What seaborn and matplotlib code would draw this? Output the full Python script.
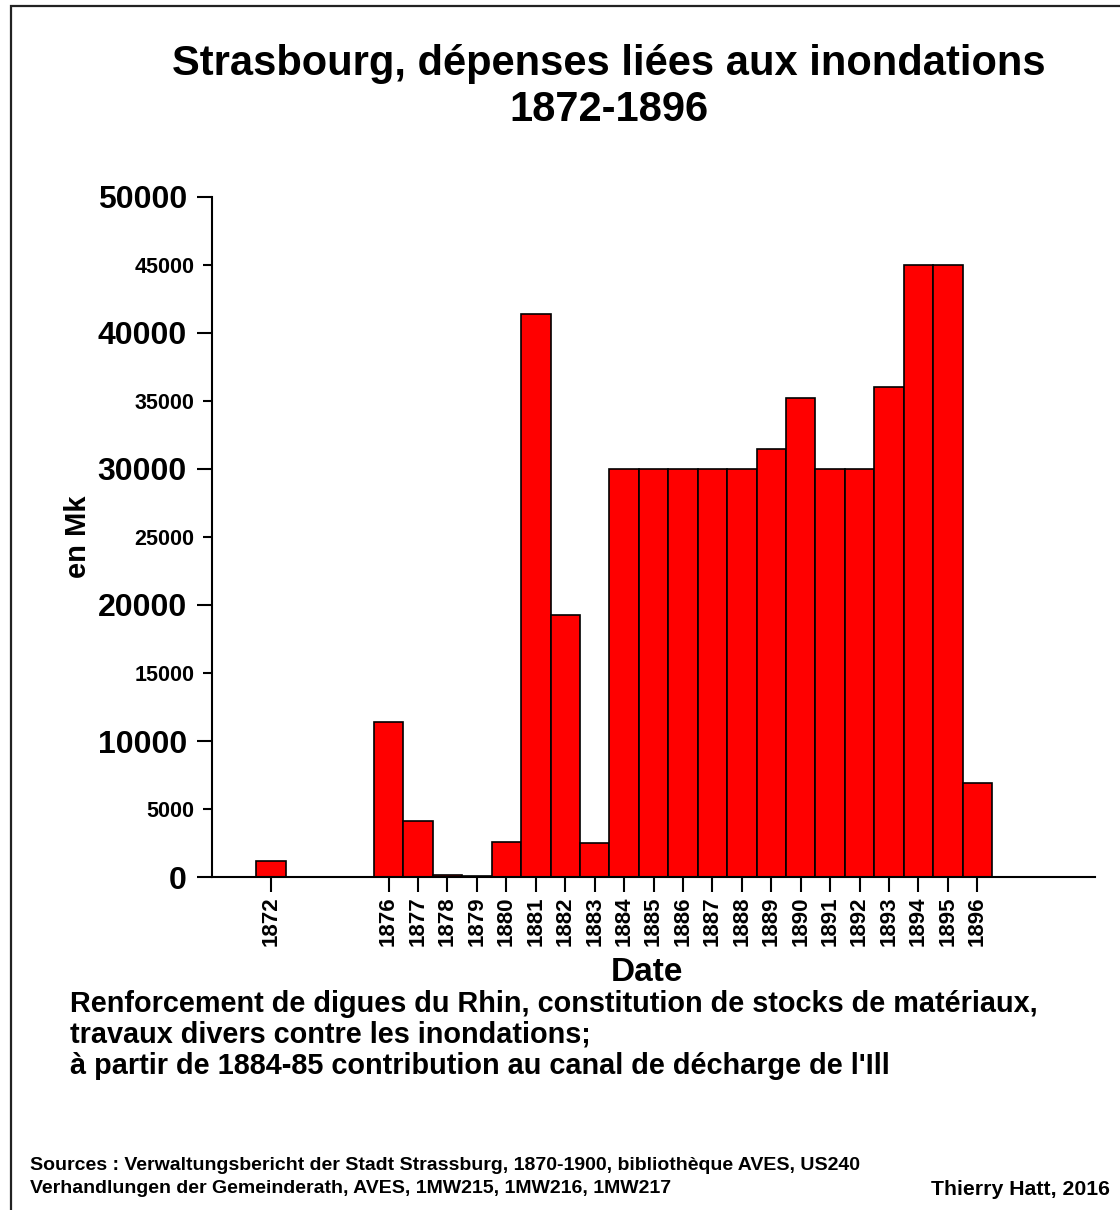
import matplotlib
matplotlib.use('Agg')
import matplotlib.pyplot as plt
from matplotlib.patches import Rectangle
import seaborn as sns
import pandas as pd

# ---------- Données ----------
annees   = [1872, 1876, 1877, 1878, 1879, 1880, 1881, 1882, 1883, 1884,
            1885, 1886, 1887, 1888, 1889, 1890, 1891, 1892, 1893, 1894,
            1895, 1896]
depenses = [1150, 11400, 4100, 120, 40, 2600, 41400, 19300, 2500, 30000,
            30000, 30000, 30000, 30000, 31500, 35200, 30000, 30000, 36000, 45000,
            45000, 6900]
ticks_majeurs = [0, 10000, 20000, 30000, 40000, 50000]
ticks_mineurs = [5000, 15000, 25000, 35000, 45000]

titre = 'Strasbourg, dépenses liées aux inondations\n1872-1896'
note = ("Renforcement de digues du Rhin, constitution de stocks de matériaux,\n"
        "travaux divers contre les inondations;\n"
        "à partir de 1884-85 contribution au canal de décharge de l'Ill")
sources = ("Sources : Verwaltungsbericht der Stadt Strassburg, 1870-1900, bibliothèque AVES, US240\n"
           "Verhandlungen der Gemeinderath, AVES, 1MW215, 1MW216, 1MW217")
auteur = 'Thierry Hatt, 2016'

df = pd.DataFrame({'Annee': annees, 'Depenses': depenses})

sns.set_style('ticks')
plt.rcParams['font.family'] = ['Liberation Sans', 'DejaVu Sans']
plt.rcParams['font.weight'] = 'bold'
for k in ['text.color', 'axes.labelcolor', 'xtick.color', 'ytick.color', 'axes.edgecolor']:
    plt.rcParams[k] = 'black'

fig = plt.figure(figsize=(11.2, 12.1), dpi=100)
ax = fig.add_axes([0.1893, 0.2752, 0.7884, 0.562])

sns.barplot(data=df, x='Annee', y='Depenses', native_scale=True, width=1,
            color='#ff0000', saturation=1, edgecolor='black', linewidth=1.2, ax=ax)

ax.set_xlim(1870, 1900)
ax.set_ylim(0, 50000)
ax.set_xticks(annees)
ax.set_xticklabels([str(a) for a in annees], rotation=90, fontsize=16, fontweight='bold')
ax.set_yticks(ticks_majeurs)
ax.set_yticklabels([str(v) for v in ticks_majeurs], fontsize=23, fontweight='bold')
ax.set_yticks(ticks_mineurs, minor=True)
ax.set_yticklabels([str(v) for v in ticks_mineurs], minor=True, fontsize=15.5, fontweight='bold')
ax.tick_params(axis='y', which='major', length=11, width=1.5, pad=7)
ax.tick_params(axis='y', which='minor', length=6.5, width=1.5, pad=6)
ax.tick_params(axis='x', length=11, width=1.5, pad=3)

ax.set_xlabel('Date', fontsize=24, fontweight='bold')
ax.set_ylabel('en Mk', fontsize=21, fontweight='bold')
ax.xaxis.set_label_coords(0.493, -0.117)
ax.yaxis.set_label_coords(-0.136, 0.5)
sns.despine(ax=ax)
for s in ['left', 'bottom']:
    ax.spines[s].set_linewidth(1.5)

fig.text(0.544, 0.964, titre, ha='center', va='top', fontsize=30,
         fontweight='bold', linespacing=1.2)
fig.text(0.0625, 0.182, note, ha='left', va='top', fontsize=20.8,
         fontweight='bold', linespacing=1.14)
fig.text(0.027, 0.044, sources, ha='left', va='top', fontsize=14,
         fontweight='bold', linespacing=1.5)
fig.text(0.991, 0.025, auteur, ha='right', va='top', fontsize=15.3, fontweight='bold')

fig.add_artist(Rectangle((0.0098, -0.05), 1.1, 1.045, transform=fig.transFigure,
                         fill=False, edgecolor='#222222', linewidth=1.6))

plt.savefig('out.png', dpi=100)
plt.close()
